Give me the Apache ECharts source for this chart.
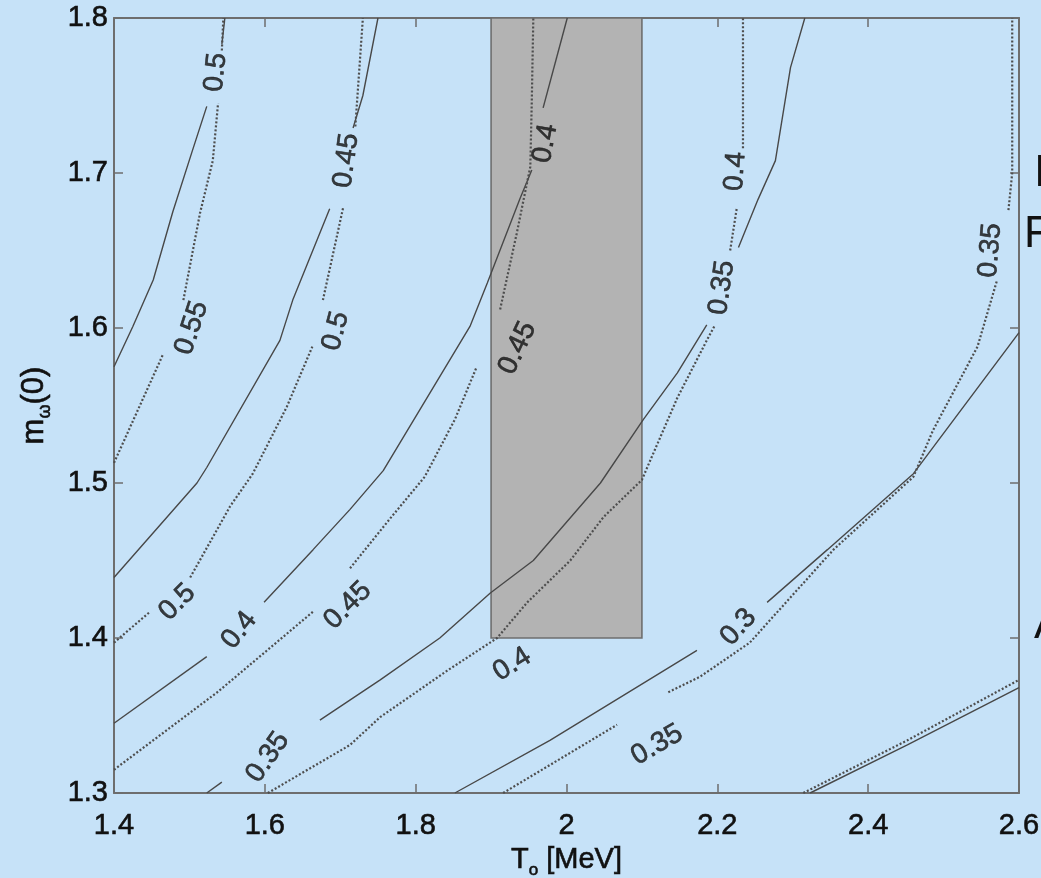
<!DOCTYPE html>
<html>
<head>
<meta charset="utf-8">
<title>m_w(0) vs T_o</title>
<script src="https://cdn.jsdelivr.net/npm/echarts@6/dist/echarts.min.js"></script>
<style>
  html, body { margin: 0; padding: 0; background: #c6e2f8; }
  #chart { width: 1041px; height: 878px; }
</style>
</head>
<body>
<div id="chart"></div>
<script>
// axes
const xRange = [1.4, 2.6];
const yRange = [1.3, 1.8];

// shaded region (T from 1.9 to 2.1, m from 1.4 up)
const shadedT = [1.9, 2.1];
const shadedM = [1.4, 1.8];

// solid contours, each one a list of segments (gaps are where the labels sit)
const solid050 = [
  [[1.4, 1.575], [1.425, 1.601], [1.452, 1.631], [1.478, 1.675], [1.503, 1.713], [1.523, 1.743]],
  [[1.543, 1.783], [1.547, 1.8]]
];
const solid045 = [
  [[1.4, 1.439], [1.510, 1.5], [1.523, 1.510], [1.620, 1.592], [1.637, 1.618], [1.686, 1.677]],
  [[1.717, 1.729], [1.730, 1.750], [1.750, 1.8]]
];
const solid040 = [
  [[1.4, 1.345], [1.523, 1.388]],
  [[1.599, 1.423], [1.664, 1.457], [1.713, 1.483], [1.757, 1.508], [1.872, 1.601],
   [1.895, 1.629], [1.938, 1.683], [1.954, 1.702]],
  [[1.969, 1.742], [2.001, 1.8]]
];
const solid035 = [
  [[1.523, 1.3], [1.543, 1.307]],
  [[1.673, 1.347], [1.753, 1.373], [1.832, 1.400], [1.899, 1.429], [1.956, 1.450],
   [2.045, 1.500], [2.102, 1.541], [2.147, 1.571], [2.186, 1.602]],
  [[2.228, 1.652], [2.254, 1.683], [2.277, 1.708], [2.297, 1.768], [2.316, 1.8]]
];
const solid030 = [
  [[1.852, 1.3], [1.978, 1.334], [2.173, 1.392]],
  [[2.266, 1.423], [2.346, 1.457], [2.460, 1.506], [2.6, 1.597]]
];
const solid025 = [
  [[2.323, 1.3], [2.452, 1.331], [2.6, 1.368]]
];

// dotted contours
const dotted055 = [
  [[1.4, 1.513], [1.465, 1.583]],
  [[1.492, 1.618], [1.514, 1.674], [1.531, 1.708], [1.538, 1.745]],
  [[1.543, 1.779], [1.545, 1.8]]
];
const dotted050 = [
  [[1.4, 1.397], [1.448, 1.417]],
  [[1.501, 1.439], [1.554, 1.485], [1.584, 1.506], [1.629, 1.549], [1.663, 1.588]],
  [[1.677, 1.618], [1.704, 1.678]],
  [[1.720, 1.730], [1.730, 1.8]]
];
const dotted045 = [
  [[1.4, 1.315], [1.537, 1.365], [1.664, 1.417]],
  [[1.713, 1.445], [1.766, 1.477], [1.812, 1.504], [1.852, 1.541], [1.881, 1.575]],
  [[1.912, 1.612], [1.934, 1.661], [1.952, 1.704], [1.954, 1.747], [1.956, 1.8]]
];
const dotted040 = [
  [[1.604, 1.3], [1.713, 1.331], [1.753, 1.349], [1.842, 1.379], [1.908, 1.400],
   [1.948, 1.423], [2.005, 1.450], [2.049, 1.478], [2.100, 1.502], [2.107, 1.510],
   [2.147, 1.555], [2.186, 1.592], [2.197, 1.602]],
  [[2.217, 1.650], [2.226, 1.678]],
  [[2.234, 1.716], [2.234, 1.8]]
];
const dotted035 = [
  [[1.916, 1.3], [2.067, 1.344]],
  [[2.135, 1.365], [2.177, 1.375], [2.243, 1.397], [2.354, 1.457], [2.460, 1.504],
   [2.486, 1.534], [2.545, 1.588], [2.571, 1.631]],
  [[2.586, 1.676], [2.591, 1.700], [2.591, 1.8]]
];
const dotted030 = [
  [[2.314, 1.3], [2.452, 1.334], [2.6, 1.373]]
];

// contour labels
const labelPoints = [
  [1.535, 1.765], [1.503, 1.600], [1.708, 1.708], [1.694, 1.598],
  [1.484, 1.423], [1.566, 1.405], [1.710, 1.421], [1.972, 1.719],
  [1.935, 1.587], [1.928, 1.383], [1.604, 1.323], [2.120, 1.331],
  [2.228, 1.407], [2.206, 1.626], [2.224, 1.701], [2.562, 1.650]
];
const labelTexts = [
  '0.5', '0.55', '0.45', '0.5',
  '0.5', '0.4', '0.45', '0.4',
  '0.45', '0.4', '0.35', '0.35',
  '0.3', '0.35', '0.4', '0.35'
];
const labelAngles = [
  84, 72, 82, 75,
  45, 52, 45, 80,
  65, 32, 55, 30,
  48, 82, 86, 85
];

const FONT = '"Liberation Sans", Arial, Helvetica, sans-serif';
const INK = '#111';
const frameColor = '#6e6e6e';

// slightly heavier text, the original is a blurry bitmap
const ink = { color: INK, fontFamily: FONT, textBorderColor: INK, textBorderWidth: 0.6 };

function contourSeries(segments, dotted) {
  return segments.map(seg => ({
    type: 'line',
    data: seg,
    symbol: 'none',
    silent: true,
    z: 3,
    lineStyle: dotted
      ? { color: '#4e4e4e', width: 2.2, type: [2, 2] }
      : { color: '#484848', width: 1.4, type: 'solid' }
  }));
}

const chart = echarts.init(document.getElementById('chart'));

const frameAxis = {
  type: 'value',
  axisLine: { show: true, onZero: false, lineStyle: { color: frameColor, width: 2 } },
  axisTick: { show: true, inside: true, length: 9, lineStyle: { color: frameColor, width: 1.5 } },
  splitLine: { show: false }
};

const option = {
  backgroundColor: '#c6e2f8',
  animation: false,
  grid: { left: 114, right: 22, top: 18, bottom: 85, containLabel: false, outerBoundsMode: 'none' },
  xAxis: [
    Object.assign({}, frameAxis, {
      min: xRange[0], max: xRange[1], interval: 0.2, position: 'bottom',
      axisLabel: Object.assign({ margin: 18, fontSize: 29 }, ink),
      name: '{a|T}{s|o}{a| [MeV]}',
      nameLocation: 'middle',
      nameGap: 44,
      nameTextStyle: {
        rich: {
          a: Object.assign({ fontSize: 29 }, ink),
          s: Object.assign({ fontSize: 17, padding: [20, 0, 0, 0] }, ink)
        }
      }
    }),
    Object.assign({}, frameAxis, {
      min: xRange[0], max: xRange[1], interval: 0.2, position: 'top',
      axisLabel: { show: false }
    })
  ],
  yAxis: [
    Object.assign({}, frameAxis, {
      min: yRange[0], max: yRange[1], interval: 0.1, position: 'left',
      axisLabel: Object.assign({ margin: 6, fontSize: 29, padding: [5, 0, 0, 0] }, ink),
      name: '{a|m}{s|ω}{a|(0)}',
      nameLocation: 'middle',
      nameGap: 60,
      nameTextStyle: {
        rich: {
          a: Object.assign({ fontSize: 31 }, ink),
          s: Object.assign({ fontSize: 18, padding: [22, 0, 0, 0] }, ink)
        }
      }
    }),
    Object.assign({}, frameAxis, {
      min: yRange[0], max: yRange[1], interval: 0.1, position: 'right',
      axisLabel: { show: false }
    })
  ],
  series: [
    {
      type: 'custom',
      z: 1,
      silent: true,
      data: [[shadedT[0], shadedM[0], shadedT[1], shadedM[1]]],
      renderItem: function (params, api) {
        const p0 = api.coord([api.value(0), api.value(3)]);
        const p1 = api.coord([api.value(2), api.value(1)]);
        return {
          type: 'rect',
          shape: { x: p0[0], y: p0[1], width: p1[0] - p0[0], height: p1[1] - p0[1] },
          style: { fill: '#b3b3b3', stroke: '#6f6f6f', lineWidth: 1.6 }
        };
      }
    },
    ...contourSeries(solid050, false),
    ...contourSeries(solid045, false),
    ...contourSeries(solid040, false),
    ...contourSeries(solid035, false),
    ...contourSeries(solid030, false),
    ...contourSeries(solid025, false),
    ...contourSeries(dotted055, true),
    ...contourSeries(dotted050, true),
    ...contourSeries(dotted045, true),
    ...contourSeries(dotted040, true),
    ...contourSeries(dotted035, true),
    ...contourSeries(dotted030, true),
    {
      type: 'scatter',
      symbolSize: 0.1,
      silent: true,
      z: 4,
      itemStyle: { color: 'rgba(0,0,0,0)' },
      label: Object.assign({ show: true, position: 'inside', fontSize: 28 }, ink),
      data: labelPoints.map((p, i) => ({
        value: p,
        label: { rotate: labelAngles[i], formatter: labelTexts[i] }
      }))
    }
  ],
  // bits of slide text cut off at the right edge
  graphic: [
    { type: 'text', left: 1034, top: 152, style: { text: 'I', fill: INK, font: '44px ' + FONT } },
    { type: 'text', left: 1024, top: 213, style: { text: 'F', fill: INK, font: '44px ' + FONT } },
    { type: 'text', left: 1034, top: 604, style: { text: 'A', fill: INK, font: '44px ' + FONT } }
  ]
};

chart.setOption(option);
</script>
</body>
</html>
